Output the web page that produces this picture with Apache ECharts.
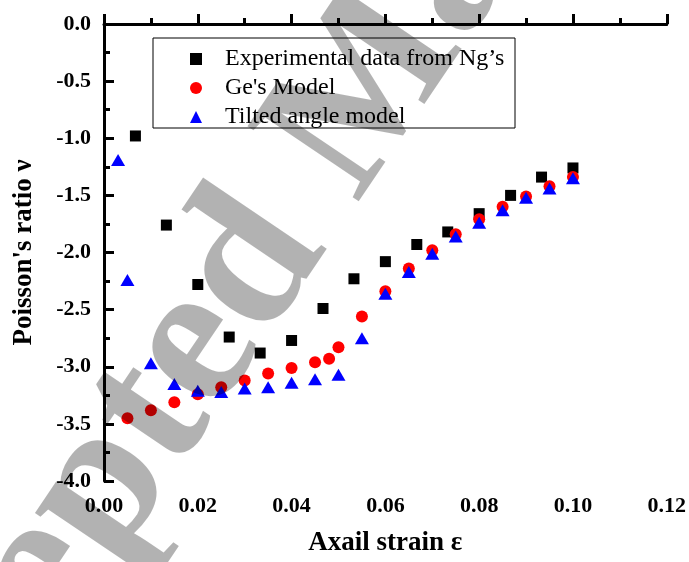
<!DOCTYPE html>
<html>
<head>
<meta charset="UTF-8">
<title>Poisson's ratio vs axial strain</title>
<script src="https://cdn.jsdelivr.net/npm/echarts@6/dist/echarts.min.js"></script>
<style>
  html, body { margin: 0; padding: 0; background: #fff; }
  #chart { width: 689px; height: 562px; }
</style>
</head>
<body>
<div id="chart"></div>
<script>
// axis ticks
var xTicks = [0.00, 0.02, 0.04, 0.06, 0.08, 0.10, 0.12];
var yTicks = [-4.0, -3.5, -3.0, -2.5, -2.0, -1.5, -1.0, -0.5, 0.0];

// Experimental data from Ng's
var expX = [0.0067, 0.0133, 0.02, 0.0267, 0.0333, 0.04, 0.0467, 0.0533, 0.06, 0.0667, 0.0733, 0.08, 0.0867, 0.0933, 0.10];
var expY = [-0.98, -1.76, -2.28, -2.74, -2.88, -2.77, -2.49, -2.23, -2.08, -1.93, -1.82, -1.66, -1.50, -1.34, -1.26];

// Ge's model
var geX = [0.005, 0.01, 0.015, 0.02, 0.025, 0.03, 0.035, 0.04, 0.045, 0.048, 0.05, 0.055, 0.06, 0.065, 0.07, 0.075, 0.08, 0.085, 0.09, 0.095, 0.10];
var geY = [-3.45, -3.38, -3.31, -3.24, -3.18, -3.12, -3.06, -3.01, -2.96, -2.93, -2.83, -2.56, -2.34, -2.14, -1.98, -1.84, -1.71, -1.60, -1.51, -1.42, -1.34];

// Tilted angle model
var tiltX = [0.003, 0.005, 0.01, 0.015, 0.02, 0.025, 0.03, 0.035, 0.04, 0.045, 0.05, 0.055, 0.06, 0.065, 0.07, 0.075, 0.08, 0.085, 0.09, 0.095, 0.10];
var tiltY = [-1.19, -2.24, -2.97, -3.15, -3.21, -3.22, -3.19, -3.18, -3.14, -3.11, -3.07, -2.75, -2.36, -2.17, -2.01, -1.86, -1.74, -1.63, -1.52, -1.44, -1.35];

function pairs(xs, ys) {
  return xs.map(function (x, i) { return [x, ys[i]]; });
}

var serif = '"Times New Roman", "Liberation Serif", serif';

var chart = echarts.init(document.getElementById('chart'));
chart.setOption({
  backgroundColor: '#fff',
  animation: false,
  textStyle: { fontFamily: serif },
  grid: { left: 104, right: 21, top: 24, bottom: 76 },
  legend: {
    orient: 'vertical',
    left: 185,
    top: 42,
    itemWidth: 12,
    itemHeight: 12,
    itemGap: 5,
    textStyle: { fontFamily: serif, fontSize: 24, color: '#000', padding: [0, 0, 0, 18] },
    data: ['Experimental data from Ng\u2019s', "Ge's Model", 'Tilted angle model']
  },
  xAxis: {
    type: 'value',
    min: xTicks[0],
    max: xTicks[xTicks.length - 1],
    interval: 0.02,
    name: 'Axail strain \u03b5',
    nameLocation: 'middle',
    nameGap: 49,
    nameTextStyle: { fontFamily: serif, fontSize: 27, fontWeight: 'bold', color: '#000' },
    axisLine: { lineStyle: { color: '#000', width: 3 } },
    axisTick: { inside: true, length: 10, lineStyle: { width: 3 } },
    minorTick: { show: true, splitNumber: 2, length: 6, lineStyle: { color: '#000', width: 3 } },
    splitLine: { show: false },
    axisLabel: {
      margin: 14, fontSize: 22, fontWeight: 'bold', color: '#000', fontFamily: serif,
      formatter: function (v) { return v.toFixed(2); }
    }
  },
  yAxis: {
    type: 'value',
    min: yTicks[0],
    max: yTicks[yTicks.length - 1],
    interval: 0.5,
    name: 'Poisson\'s ratio \u03bd',
    nameLocation: 'middle',
    nameRotate: 90,
    nameGap: 66,
    nameTextStyle: { fontFamily: serif, fontSize: 27, fontWeight: 'bold', color: '#000' },
    axisLine: { lineStyle: { color: '#000', width: 3 } },
    axisTick: { inside: true, length: 10, lineStyle: { width: 3 } },
    minorTick: { show: true, splitNumber: 2, length: 6, lineStyle: { color: '#000', width: 3 } },
    splitLine: { show: false },
    axisLabel: {
      margin: 13, fontSize: 22, fontWeight: 'bold', color: '#000', fontFamily: serif,
      formatter: function (v) { return v.toFixed(1); }
    }
  },
  series: [
    {
      name: 'Experimental data from Ng\u2019s',
      type: 'scatter',
      symbol: 'rect',
      symbolSize: 11,
      itemStyle: { color: '#000', opacity: 1 },
      data: pairs(expX, expY)
    },
    {
      name: "Ge's Model",
      type: 'scatter',
      symbol: 'circle',
      symbolSize: 12,
      itemStyle: { color: '#ff0000', opacity: 1 },
      data: pairs(geX, geY)
    },
    {
      name: 'Tilted angle model',
      type: 'scatter',
      symbol: 'triangle',
      symbolSize: [14, 12],
      itemStyle: { color: '#0000ff', opacity: 1 },
      data: pairs(tiltX, tiltY)
    }
  ],
  graphic: [
    {
      type: 'rect',
      z: 50,
      shape: { x: 153, y: 38, width: 362, height: 90 },
      style: { fill: 'none', stroke: '#000', lineWidth: 1 }
    },
    {
      // watermark
      type: 'text',
      z: 200,
      x: -168,
      y: 887,
      rotation: 0.977,
      silent: true,
      style: {
        text: 'Accepted Manuscript',
        font: 'bold 205px "Times New Roman", "Liberation Serif", serif',
        fill: 'rgba(0,0,0,0.3)',
        textAlign: 'left',
        textVerticalAlign: 'middle',
        align: 'left',
        verticalAlign: 'middle'
      }
    }
  ]
});
</script>
</body>
</html>
